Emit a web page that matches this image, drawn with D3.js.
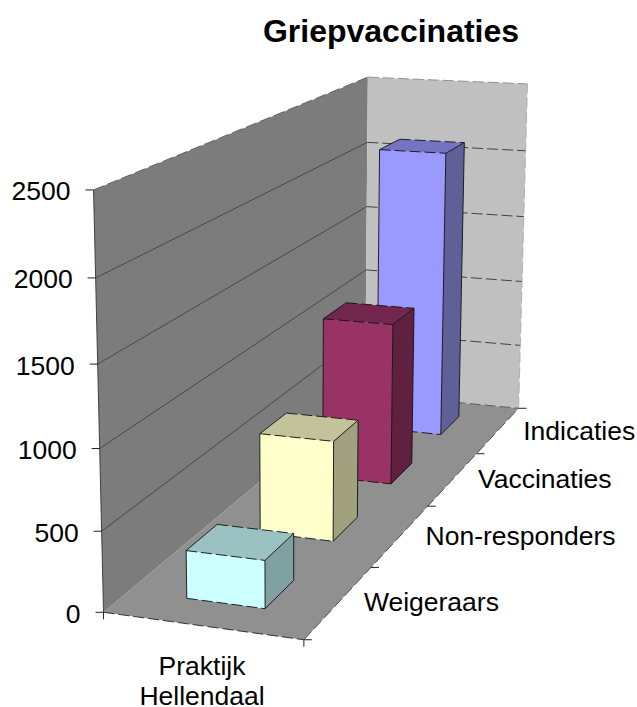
<!DOCTYPE html>
<html>
<head>
<meta charset="utf-8">
<script src="https://cdn.jsdelivr.net/npm/d3@7"></script>
<style>
body { margin: 0; background: #fff; }
text { font-family: "Liberation Sans", Arial, sans-serif; fill: #000; }
</style>
</head>
<body>
<div id="chart"></div>
<script>
const title = 'Griepvaccinaties';
const series = ['Praktijk', 'Hellendaal'];
const categories = ['Weigeraars', 'Non-responders', 'Vaccinaties', 'Indicaties'];
const values = [300, 665, 1130, 2100];
const valueTicks = [0, 500, 1000, 1500, 2000, 2500];
const frontColors = ['#ccffff', '#ffffcc', '#993366', '#9999ff'];
const topColors = ['#9bc2c2', '#c2c29b', '#74274e', '#7474c2'];
const sideColors = ['#80a1a1', '#a1a180', '#602040', '#606099'];

// box corners on screen, [x, y, z, screenX, screenY]
const anchors = [
  [0, 0, 0, 103, 612], [1, 0, 0, 304, 640], [1, 0, 1, 518, 408], [0, 0, 1, 366, 394],
  [0, 1, 0, 94, 190], [0, 1, 1, 367, 77], [1, 1, 1, 528, 84]
];

function solve(A, b) {
  const n = b.length, m = A.map((r, i) => [...r, b[i]]);
  for (let i = 0; i < n; i++) {
    let p = i;
    for (let r = i + 1; r < n; r++) if (Math.abs(m[r][i]) > Math.abs(m[p][i])) p = r;
    [m[i], m[p]] = [m[p], m[i]];
    for (let r = 0; r < n; r++) {
      if (r === i) continue;
      const f = m[r][i] / m[i][i];
      for (let c = i; c <= n; c++) m[r][c] -= f * m[i][c];
    }
  }
  return m.map((r, i) => r[n] / r[i]);
}

// least squares fit of the perspective matrix
const rows = [], rhs = [];
anchors.forEach(([x, y, z, sx, sy]) => {
  rows.push([x, y, z, 1, 0, 0, 0, 0, -sx * x, -sx * y, -sx * z]); rhs.push(sx);
  rows.push([0, 0, 0, 0, x, y, z, 1, -sy * x, -sy * y, -sy * z]); rhs.push(sy);
});
const AtA = d3.range(11).map(i => d3.range(11).map(j => d3.sum(rows, r => r[i] * r[j])));
const Atb = d3.range(11).map(i => d3.sum(rows, (r, k) => r[i] * rhs[k]));
const h = solve(AtA, Atb);
function project(x, y, z) {
  const w = h[8] * x + h[9] * y + h[10] * z + 1;
  return [(h[0] * x + h[1] * y + h[2] * z + h[3]) / w, (h[4] * x + h[5] * y + h[6] * z + h[7]) / w];
}

const svg = d3.select('#chart').append('svg').attr('width', 637).attr('height', 707);
const yScale = d3.scaleLinear().domain([0, 2500]).range([0, 1]);
const zScale = d3.scaleBand().domain(categories).range([0, 1]).paddingInner(0.6).paddingOuter(0.3);
const xScale = d3.scaleBand().domain([series.join(' ')]).range([0, 1]).paddingInner(0.6).paddingOuter(0.3);

const pts = a => a.map(p => project(...p).join(',')).join(' ');
function face(g, corners, fill) {
  g.append('polygon').attr('points', pts(corners)).attr('fill', fill);
}
function edge(g, a, b, dash, color, width) {
  const p = project(...a), q = project(...b);
  g.append('line')
    .attr('x1', p[0]).attr('y1', p[1]).attr('x2', q[0]).attr('y2', q[1])
    .attr('stroke', color || '#111')
    .attr('stroke-width', width || 0.9)
    .attr('stroke-dasharray', dash ? '11 4' : null);
}
function tick(g, a, dx, dy) {
  const p = project(...a);
  g.append('line')
    .attr('x1', p[0]).attr('y1', p[1]).attr('x2', p[0] + dx).attr('y2', p[1] + dy)
    .attr('stroke', '#222').attr('stroke-width', 1);
}

// walls and floor
const box = svg.append('g').classed('box', true);
face(box, [[0, 0, 0], [0, 1, 0], [0, 1, 1], [0, 0, 1]], '#7c7c7c');
face(box, [[0, 0, 1], [0, 1, 1], [1, 1, 1], [1, 0, 1]], '#c0c0c0');
face(box, [[0, 0, 0], [1, 0, 0], [1, 0, 1], [0, 0, 1]], '#909090');

const grid = svg.append('g').classed('grid', true);
valueTicks.forEach(v => {
  const y = yScale(v);
  if (v > 0 && v < 2500) edge(grid, [0, y, 0], [0, y, 1], false, '#333', 0.7);
  edge(grid, [0, y, 1], [1, y, 1], true, v === 2500 ? '#888' : v === 0 ? '#555' : '#333');
});
edge(grid, [1, 0, 1], [1, 1, 1], true, '#aaa');
edge(grid, [0, 1, 0], [0, 1, 1], true, '#555');
edge(grid, [0, 0, 0], [0, 1, 0], false, '#333');
edge(grid, [0, 0, 0], [1, 0, 0], true, '#222');
edge(grid, [1, 0, 0], [1, 0, 1], true, '#444');

// axis ticks
const axes = svg.append('g').classed('axes', true);
valueTicks.forEach(v => tick(axes, [0, yScale(v), 0], -8, 0));
d3.range(5).forEach(i => tick(axes, [1, 0, i / 4], 8, 0));
[0, 1].forEach(x => tick(axes, [x, 0, 0], 0, 7));

// bars, back to front
const x0 = xScale.range()[0] + xScale(xScale.domain()[0]);
const x1 = x0 + xScale.bandwidth();
d3.range(categories.length - 1, -1, -1).forEach(i => {
  const g = svg.append('g').classed('bar', true);
  const z0 = zScale(categories[i]), z1 = z0 + zScale.bandwidth(), y = yScale(values[i]);
  face(g, [[x0, 0, z0], [x0, y, z0], [x1, y, z0], [x1, 0, z0]], frontColors[i]);
  face(g, [[x0, y, z0], [x0, y, z1], [x1, y, z1], [x1, y, z0]], topColors[i]);
  face(g, [[x1, 0, z0], [x1, y, z0], [x1, y, z1], [x1, 0, z1]], sideColors[i]);
  edge(g, [x0, 0, z0], [x0, y, z0]);
  edge(g, [x1, 0, z0], [x1, y, z0]);
  edge(g, [x1, 0, z1], [x1, y, z1]);
  edge(g, [x0, 0, z0], [x1, 0, z0], true);
  edge(g, [x0, y, z0], [x1, y, z0], true);
  edge(g, [x0, y, z1], [x1, y, z1], true);
  edge(g, [x0, y, z0], [x0, y, z1]);
  edge(g, [x1, y, z0], [x1, y, z1]);
  edge(g, [x1, 0, z0], [x1, 0, z1]);
});

// labels
svg.append('text')
  .attr('x', 391).attr('y', 42)
  .attr('text-anchor', 'middle')
  .attr('font-size', 32).attr('font-weight', 'bold')
  .text(title);

const labels = svg.append('g').classed('labels', true).attr('font-size', 26.5);
valueTicks.forEach(v => {
  const p = project(0, yScale(v), 0);
  labels.append('text')
    .attr('x', p[0] - 23).attr('y', p[1] + 10.5)
    .attr('text-anchor', 'end')
    .text(v);
});
categories.forEach(c => {
  const p = project(1, 0, zScale(c) + zScale.bandwidth() / 2);
  labels.append('text')
    .attr('x', p[0] + 25).attr('y', p[1] + 9.5)
    .text(c);
});
series.forEach((s, i) => {
  labels.append('text')
    .attr('x', 202).attr('y', 675 + i * 30)
    .attr('text-anchor', 'middle')
    .text(s);
});
</script>
</body>
</html>
